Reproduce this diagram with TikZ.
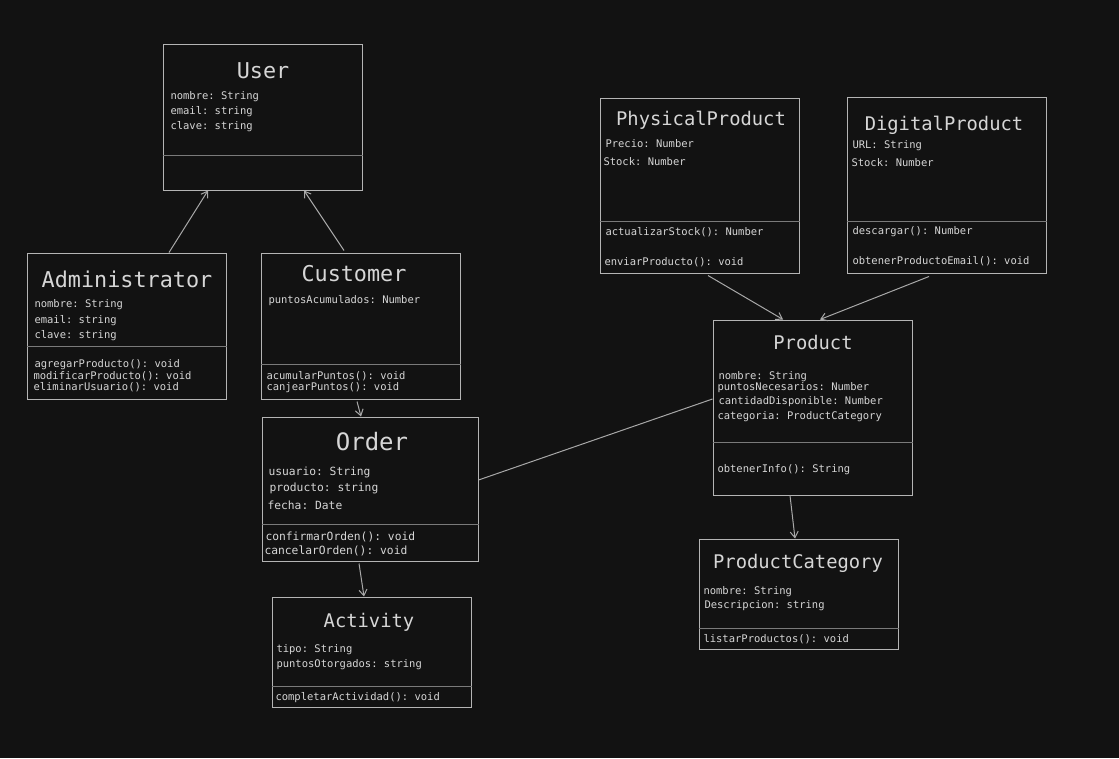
\documentclass[tikz,border=0pt]{standalone}
\usepackage{fontspec}
\setmonofont{DejaVu Sans Mono}
\usetikzlibrary{arrows.meta, positioning}
\definecolor{bgdark}{HTML}{121212}
\definecolor{boxline}{HTML}{B4B4B4}
\definecolor{sepline}{HTML}{7A7A7A}
\definecolor{linkline}{HTML}{A8A8A8}
\definecolor{umltext}{HTML}{D6D6D6}

\begin{document}
\begin{tikzpicture}[x=1pt, y=-1pt, line width=1pt]
    % Styles for class boxes, texts and arrows
    \tikzstyle{classbox} = [rectangle, draw=boxline, minimum width=199pt, inner sep=0pt]
    \tikzstyle{classtitle} = [text=umltext, font=\ttfamily\fontsize{18.8}{20}\selectfont, anchor=mid, inner sep=0pt, yshift=-6pt]
    \tikzstyle{bigtitle} = [classtitle, font=\ttfamily\fontsize{21.8}{23}\selectfont]
    \tikzstyle{member} = [text=umltext, font=\ttfamily\fontsize{10.5}{12}\selectfont, anchor=mid west, inner sep=0pt, yshift=-2pt]
    \tikzstyle{sep} = [draw=sepline]
    \tikzstyle{arrow} = [draw=linkline, -{Straight Barb[length=6pt, width=8pt]}]
    \tikzstyle{link} = [draw=linkline]

    % Background
    \fill[bgdark] (0,0) rectangle (1119,758);
    \useasboundingbox (0,0) rectangle (1119,758);

    % Boxes
    \node[classbox, minimum height=146pt] (user) at (262.5,117) {};
    \node[classbox, minimum height=146pt] (admin) at (126.5,326) {};
    \node[classbox, minimum height=146pt] (customer) at (360.5,326) {};
    \node[classbox, minimum width=216pt, minimum height=144pt] (order) at (370,489) {};
    \node[classbox, minimum height=110pt] (activity) at (371.5,652) {};
    \node[classbox, minimum height=175pt] (physical) at (699.5,185.5) {};
    \node[classbox, minimum height=176pt] (digital) at (946.5,185) {};
    \node[classbox, minimum height=175pt] (product) at (812.5,407.5) {};
    \node[classbox, minimum height=110pt] (category) at (798.5,594) {};

    % Separators
    \draw[sep] ([yshift=35pt]user.south west) -- ([yshift=35pt]user.south east);
    \draw[sep] ([yshift=53pt]admin.south west) -- ([yshift=53pt]admin.south east);
    \draw[sep] ([yshift=35pt]customer.south west) -- ([yshift=35pt]customer.south east);
    \draw[sep] ([yshift=37pt]order.south west) -- ([yshift=37pt]order.south east);
    \draw[sep] ([yshift=21pt]activity.south west) -- ([yshift=21pt]activity.south east);
    \draw[sep] ([yshift=52pt]physical.south west) -- ([yshift=52pt]physical.south east);
    \draw[sep] ([yshift=52pt]digital.south west) -- ([yshift=52pt]digital.south east);
    \draw[sep] ([yshift=53pt]product.south west) -- ([yshift=53pt]product.south east);
    \draw[sep] ([yshift=21pt]category.south west) -- ([yshift=21pt]category.south east);

    % User
    \node[bigtitle] (user-t) at (263,70) {User};
    \node[member] (user-a1) at (170,95) {nombre: String};
    \node[member] (user-a2) at (170,110) {email: string};
    \node[member] (user-a3) at (170,125) {clave: string};

    % Administrator
    \node[bigtitle] (admin-t) at (127,279) {Administrator};
    \node[member] (admin-a1) at (34,303) {nombre: String};
    \node[member] (admin-a2) at (34,319) {email: string};
    \node[member] (admin-a3) at (34,334) {clave: string};
    \node[member] (admin-m1) at (34,363) {agregarProducto(): void};
    \node[member] (admin-m2) at (33,375) {modificarProducto(): void};
    \node[member] (admin-m3) at (33,386) {eliminarUsuario(): void};

    % Customer
    \node[bigtitle] (customer-t) at (354,273) {Customer};
    \node[member] (customer-a1) at (268,299) {puntosAcumulados: Number};
    \node[member] (customer-m1) at (266,375) {acumularPuntos(): void};
    \node[member] (customer-m2) at (266,386) {canjearPuntos(): void};

    % Order
    \node[classtitle, font=\ttfamily\fontsize{24}{26}\selectfont] (order-t) at (372,442) {Order};
    \node[member, font=\ttfamily\fontsize{11.3}{13}\selectfont] (order-a1) at (268,471) {usuario: String};
    \node[member, font=\ttfamily\fontsize{11.3}{13}\selectfont] (order-a2) at (269,487) {producto: string};
    \node[member, font=\ttfamily\fontsize{11.3}{13}\selectfont] (order-a3) at (267,505) {fecha: Date};
    \node[member, font=\ttfamily\fontsize{11.3}{13}\selectfont] (order-m1) at (265,536) {confirmarOrden(): void};
    \node[member, font=\ttfamily\fontsize{11.3}{13}\selectfont] (order-m2) at (264,550) {cancelarOrden(): void};

    % Activity
    \node[classtitle] (activity-t) at (369,619) {Activity};
    \node[member] (activity-a1) at (276,648) {tipo: String};
    \node[member] (activity-a2) at (276,663) {puntosOtorgados: string};
    \node[member] (activity-m1) at (275,696) {completarActividad(): void};

    % PhysicalProduct
    \node[classtitle] (physical-t) at (701,117) {PhysicalProduct};
    \node[member] (physical-a1) at (605,143) {Precio: Number};
    \node[member] (physical-a2) at (603,161) {Stock: Number};
    \node[member] (physical-m1) at (605,231) {actualizarStock(): Number};
    \node[member] (physical-m2) at (604,261) {enviarProducto(): void};

    % DigitalProduct
    \node[classtitle] (digital-t) at (944,122) {DigitalProduct};
    \node[member] (digital-a1) at (852,144) {URL: String};
    \node[member] (digital-a2) at (851,162) {Stock: Number};
    \node[member] (digital-m1) at (852,230) {descargar(): Number};
    \node[member] (digital-m2) at (852,260) {obtenerProductoEmail(): void};

    % Product
    \node[classtitle] (product-t) at (813,341) {Product};
    \node[member] (product-a1) at (718,375) {nombre: String};
    \node[member] (product-a2) at (717,386) {puntosNecesarios: Number};
    \node[member] (product-a3) at (718,400) {cantidadDisponible: Number};
    \node[member] (product-a4) at (717,415) {categoria: ProductCategory};
    \node[member] (product-m1) at (717,468) {obtenerInfo(): String};

    % ProductCategory
    \node[classtitle] (category-t) at (798,560) {ProductCategory};
    \node[member] (category-a1) at (703,590) {nombre: String};
    \node[member] (category-a2) at (704,604) {Descripcion: string};
    \node[member] (category-m1) at (703,638) {listarProductos(): void};

    % Arrows
    \draw[arrow] ([xshift=42.5pt]admin.north) -- ([xshift=-54.5pt]user.south);
    \draw[arrow] ([xshift=-16.5pt, yshift=2pt]customer.north) -- ([xshift=41.5pt]user.south);
    \draw[arrow] ([xshift=-3.5pt, yshift=-2pt]customer.south) -- ([xshift=-9pt]order.north);
    \draw[arrow] ([xshift=-11pt, yshift=-2pt]order.south) -- ([xshift=-7.5pt]activity.north);
    \draw[arrow] ([xshift=8.5pt, yshift=-2pt]physical.south) -- ([xshift=-29.5pt]product.north);
    \draw[arrow] ([xshift=-17.5pt, yshift=-3pt]digital.south) -- ([xshift=7.5pt]product.north);
    \draw[arrow] ([xshift=-22.5pt]product.south) -- ([xshift=-3.5pt]category.north);
    \draw[link] ([yshift=9pt]order.east) -- ([yshift=8.5pt]product.west);
\end{tikzpicture}
\end{document}
